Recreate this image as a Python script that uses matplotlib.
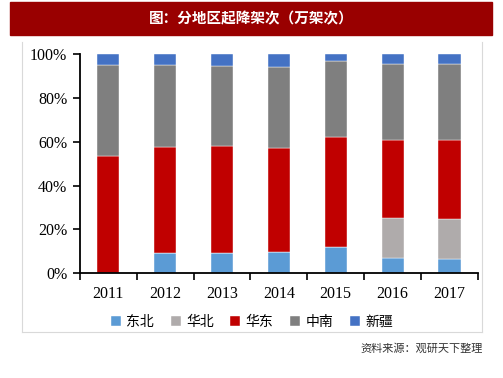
import numpy as np
import matplotlib.pyplot as plt
from matplotlib.lines import Line2D
from matplotlib.patches import Rectangle

plt.rcParams['font.family'] = ['Liberation Serif', 'Noto Sans CJK SC']

years = ["2011", "2012", "2013", "2014", "2015", "2016", "2017"]
series = ["东北", "华北", "华东", "中南", "新疆"]
dongbei = [0.0, 9.0, 9.0, 9.5, 11.7, 6.7, 6.3]
huabei = [0.0, 0.0, 0.0, 0.0, 0.0, 18.6, 18.5]
huadong = [53.6, 48.4, 49.1, 47.6, 50.4, 35.7, 35.8]
zhongnan = [41.4, 37.6, 36.4, 37.1, 34.7, 34.4, 34.8]
xinjiang = [5.0, 5.0, 5.5, 5.8, 3.2, 4.6, 4.6]
colors = ["#5B9BD5", "#AFABAB", "#C00000", "#7F7F7F", "#4472C4"]

fig = plt.figure(figsize=(5.03, 3.78), dpi=100)

# title bar
fig.patches.append(Rectangle((10 / 503, 1 - 35 / 378), 482 / 503, 33 / 378,
                             transform=fig.transFigure, color="#990000", zorder=0))
fig.text(251 / 503, 1 - 18.5 / 378, "图：分地区起降架次（万架次）", color="white",
         fontsize=10.5, fontweight="bold", family=["Noto Sans CJK SC"],
         ha="center", va="center")

# light frame around chart area
for xs, ys in [([22, 22], [42, 332]), ([482, 482], [42, 332]), ([22, 482], [332, 332])]:
    fig.add_artist(Line2D([x / 503 for x in xs], [1 - y / 378 for y in ys],
                          transform=fig.transFigure, color="#D9D9D9", lw=0.8))

ax = fig.add_axes([79.7 / 503, 1 - 273 / 378, (478 - 79.7) / 503, (273 - 54.3) / 378])

x = np.arange(len(years))
data = [dongbei, huabei, huadong, zhongnan, xinjiang]
bottom = np.zeros(len(years))
for name, vals, c in zip(series, data, colors):
    v = np.array(vals) / 100
    ax.bar(x, v, 0.39, bottom=bottom, color=c, label=name,
           edgecolor="white", linewidth=0.3)
    bottom += v

ax.set_xlim(-0.5, len(years) - 0.5)
ax.set_ylim(0, 1.0)
ax.set_yticks(np.arange(0, 1.01, 0.2))
ax.set_yticklabels([f"{int(round(t * 100))}%" for t in np.arange(0, 1.01, 0.2)])
ax.set_xticks(x)
ax.set_xticklabels(years)
ax.set_xticks(np.arange(-0.5, len(years), 1), minor=True)
ax.tick_params(axis="x", which="major", length=0, pad=9, labelsize=11.5)
ax.tick_params(axis="x", which="minor", direction="out", length=5, width=1.2)
ax.tick_params(axis="y", direction="out", length=5, width=1.2, labelsize=11.5, pad=4)
for s in ["top", "right"]:
    ax.spines[s].set_visible(False)
for s in ["left", "bottom"]:
    ax.spines[s].set_linewidth(1.3)

leg = fig.legend(loc="center", bbox_to_anchor=(252 / 503, 1 - 322 / 378), ncol=5,
                 frameon=False, prop={"family": ["Noto Sans CJK SC"], "size": 10},
                 handlelength=0.7, handleheight=0.7, handletextpad=0.4,
                 columnspacing=1.2)

fig.text(483 / 503, 1 - 348 / 378, "资料来源：观研天下整理", fontsize=8,
         family=["Noto Sans CJK SC"], color="#333333", ha="right", va="center")

fig.savefig("out.png", dpi=100)
